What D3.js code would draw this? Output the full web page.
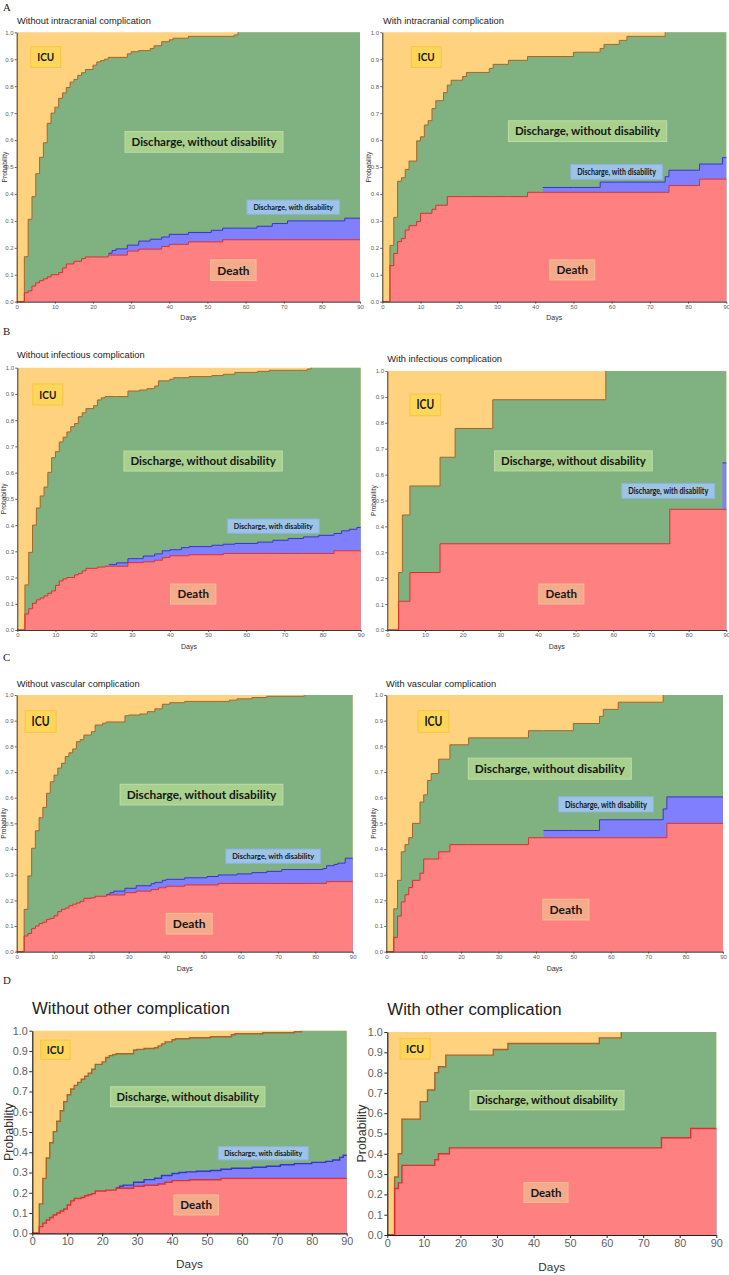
<!DOCTYPE html>
<html><head><meta charset="utf-8">
<script src="https://cdn.jsdelivr.net/npm/d3@7"></script>
<style>body{margin:0;background:#fff} svg{display:block}</style>
</head><body>
<svg id="chart" width="729" height="1275"></svg>
<script>
// ---------------- DATA (cumulative step boundaries, [day, probability]) ----------------
const xTicks = [0,10,20,30,40,50,60,70,80,90];
const yTicks = [0,0.1,0.2,0.3,0.4,0.5,0.6,0.7,0.8,0.9,1.0];
const stateNames = ["ICU","Discharge, without disability","Discharge, with disability","Death"];

// A: intracranial
const deathA1 = [[2,.033],[3,.04],[4,.058],[5,.07],[6,.078],[7,.085],[8,.092],[9,.1],[11,.108],[12,.125],[13,.14],[15,.15],[17,.16],[18,.166],[24,.173],[29,.188],[32,.195],[38,.205],[40,.213],[45,.222],[54,.23]];
const disabA1 = [[24,.18],[25,.19],[26,.196],[29,.21],[32,.225],[35,.232],[38,.24],[40,.25],[45,.257],[51,.265],[54,.273],[63,.28],[67,.29],[71,.3],[86,.31]];
const dischA1 = [[2,.167],[3,.306],[4,.39],[5,.475],[6,.536],[7,.59],[8,.662],[9,.70],[10,.722],[11,.755],[12,.775],[13,.795],[14,.815],[15,.825],[16,.84],[17,.85],[18,.862],[20,.878],[21,.89],[22,.895],[23,.9],[24,.907],[29,.92],[30,.928],[32,.932],[35,.94],[36,.95],[38,.965],[40,.972],[41,.978],[45,.985],[57,.99],[58,1]];

const deathA2 = [[2,.134],[3,.179],[4,.223],[5,.235],[6,.266],[7,.282],[9,.298],[10,.328],[13,.343],[14,.358],[17,.39],[38,.406],[75,.431],[83,.455]];
const disabA2 = [[42,.424],[57,.444],[74,.464],[75,.488],[83,.511],[89,.535]];
const dischA2 = [[2,.209],[3,.313],[4,.447],[5,.46],[6,.491],[7,.522],[9,.597],[10,.612],[11,.656],[12,.672],[13,.717],[14,.746],[16,.776],[17,.804],[18,.822],[21,.836],[22,.851],[28,.866],[29,.881],[33,.896],[38,.91],[50,.926],[57,.94],[58,.955],[62,.97],[64,.985],[74,1]];

// B: infectious
const deathB1 = [[2,.061],[3,.081],[4,.102],[5,.115],[6,.122],[7,.13],[8,.14],[9,.149],[10,.17],[11,.187],[12,.195],[13,.2],[15,.21],[16,.215],[17,.225],[18,.235],[21,.24],[23,.243],[29,.257],[33,.26],[36,.266],[38,.276],[40,.283],[45,.287],[54,.292],[83,.302]];
const disabB1 = [[24,.25],[26,.256],[29,.272],[33,.282],[36,.29],[38,.302],[40,.306],[43,.314],[45,.318],[51,.323],[54,.327],[57,.33],[63,.335],[67,.342],[71,.349],[75,.355],[79,.361],[83,.368],[85,.378],[87,.384],[89,.391]];
const dischB1 = [[2,.172],[3,.296],[4,.40],[5,.465],[6,.511],[7,.545],[8,.601],[9,.657],[10,.68],[11,.717],[12,.735],[13,.755],[14,.775],[15,.787],[16,.813],[17,.828],[18,.844],[20,.855],[21,.877],[22,.885],[23,.89],[29,.911],[32,.915],[34,.92],[36,.93],[37,.95],[40,.956],[41,.962],[45,.966],[51,.97],[54,.975],[57,.982],[63,.986],[66,.99],[76,.995],[77,1]];

const deathB2 = [[3,.111],[6,.222],[14,.333],[75,.466]];
const disabB2 = [[89,.645]];
const dischB2 = [[3,.222],[4,.444],[6,.556],[14,.667],[18,.778],[28,.889],[58,1]];

// C: vascular
const deathC1 = [[2,.061],[3,.071],[4,.09],[5,.10],[6,.11],[7,.115],[8,.126],[9,.13],[10,.14],[11,.156],[12,.165],[13,.17],[14,.179],[15,.185],[16,.19],[17,.196],[18,.208],[20,.21],[21,.216],[24,.221],[29,.23],[32,.236],[36,.242],[38,.249],[40,.255],[45,.26],[54,.266],[83,.273]];
const disabC1 = [[24,.223],[25,.23],[26,.236],[29,.247],[32,.257],[36,.265],[37,.27],[39,.278],[40,.282],[45,.288],[51,.293],[54,.299],[59,.303],[63,.308],[67,.313],[71,.32],[82,.324],[83,.335],[85,.34],[86,.345],[88,.364]];
const dischC1 = [[2,.165],[3,.295],[4,.403],[5,.471],[6,.522],[7,.562],[8,.617],[9,.662],[10,.688],[11,.715],[12,.734],[13,.76],[14,.775],[15,.79],[16,.818],[17,.826],[18,.844],[20,.857],[21,.883],[23,.89],[24,.895],[29,.919],[30,.922],[33,.926],[35,.935],[37,.946],[39,.964],[41,.97],[45,.975],[57,.98],[59,.985],[63,.99],[67,.995],[77,1]];

const deathC2 = [[2,.056],[3,.139],[4,.194],[5,.222],[6,.25],[7,.278],[9,.306],[10,.361],[14,.389],[17,.417],[38,.444],[75,.5]];
const disabC2 = [[42,.472],[57,.514],[74,.556],[75,.603]];
const dischC2 = [[2,.167],[3,.278],[4,.389],[5,.417],[6,.444],[7,.5],[9,.583],[10,.611],[11,.667],[12,.694],[14,.75],[17,.806],[22,.833],[38,.861],[50,.889],[57,.917],[58,.944],[62,.972],[74,1]];

// D: other
const deathD1 = [[2,.033],[3,.05],[4,.066],[5,.078],[6,.09],[7,.1],[8,.11],[9,.12],[10,.14],[11,.16],[12,.172],[14,.177],[15,.185],[16,.19],[17,.196],[18,.209],[21,.213],[24,.222],[29,.232],[32,.237],[36,.243],[38,.252],[40,.26],[45,.264],[54,.271]];
const disabD1 = [[24,.225],[25,.232],[26,.238],[29,.252],[32,.265],[35,.272],[37,.285],[40,.295],[42,.3],[44,.303],[47,.306],[51,.31],[54,.316],[57,.321],[63,.326],[67,.331],[71,.338],[75,.344],[80,.35],[84,.355],[86,.362],[88,.375],[89,.385]];
const dischD1 = [[2,.145],[3,.271],[4,.372],[5,.447],[6,.502],[7,.553],[8,.605],[9,.65],[10,.684],[11,.712],[12,.73],[13,.745],[14,.76],[15,.775],[16,.79],[17,.81],[18,.834],[20,.846],[21,.868],[22,.877],[23,.882],[24,.886],[29,.905],[30,.908],[32,.912],[35,.916],[36,.925],[37,.935],[38,.945],[40,.955],[41,.96],[45,.965],[51,.97],[57,.98],[58,.985],[66,.99],[75,.995],[77,1]];

const deathD2 = [[2,.229],[3,.257],[4,.343],[13,.371],[14,.4],[17,.429],[75,.479],[83,.525]];
const disabD2 = [];
const dischD2 = [[2,.286],[3,.4],[4,.571],[9,.657],[11,.714],[13,.8],[14,.829],[16,.886],[29,.914],[33,.943],[58,.971],[64,1]];

const titles = ["Without intracranial complication","With intracranial complication",
  "Without infectious complication","With infectious complication",
  "Without vascular complication","With vascular complication",
  "Without other complication","With other complication"];
const groupLetters = ["A","B","C","D"];

// ---------------- LAYOUT ----------------
const small = {tick:6, axisLab:7, probLab:6.6, title:9.3, tickSize:2, pad:1.2, axisColor:"#3a3a3a", axisW:1, lineW:1};
const big   = {tick:10.8, axisLab:11.8, probLab:12.4, title:16.8, tickSize:3, pad:1.5, axisColor:"#222", axisW:1.2, lineW:1.4};
const layout = [
 {l:16.7,r:360,t:32.3,b:301.7, tx:17,ty:24, probX:4.5, daysY:319.8, st:small,
  lab:[[7.6,.908,30,20.7],[49.1,.593,158,20.7],[72.5,.351,92.7,14.3],[56.8,.117,45.3,20.7]]},
 {l:382.3,r:726.3,t:32.3,b:301.7, tx:383,ty:24, probX:368.5, daysY:319.8, st:small,
  lab:[[11.5,.908,30,20.7],[53.7,.633,158.3,20.7],[61.3,.482,91.7,15],[49.7,.118,45,20]]},
 {l:17.3,r:360.7,t:367.7,b:630, tx:17,ty:358.3, probX:4, daysY:648.6, st:small,
  lab:[[8.0,.898,30,21],[48.7,.644,158.3,20],[67.1,.396,92,14.3],[46.1,.137,45.3,20]]},
 {l:387.3,r:726.3,t:371,b:630, tx:387.3,ty:362.3, probX:374, daysY:648.6, st:small,
  lab:[[10.1,.869,30.7,21.7],[49.4,.653,157.7,20],[74.6,.537,93,15],[46.2,.139,45,20]]},
 {l:16.7,r:352.7,t:695,b:951.7, tx:16.7,ty:686.6, probX:4, daysY:970.6, st:small,
  lab:[[6.4,.897,31,21.7],[49.5,.612,162.7,20.7],[68.7,.372,94.7,14.3],[46.2,.109,46,20.7]]},
 {l:386.3,r:723,t:695,b:951.7, tx:386,ty:686.6, probX:374, daysY:970.6, st:small,
  lab:[[12.6,.897,31,21.7],[43.7,.713,163,21],[58.7,.574,95,15.3],[48.0,.164,46,20.7]]},
 {l:32.3,r:346.7,t:1030.7,b:1233.3, tx:32,ty:1014, probX:8.5, daysY:1268, st:big,
  lab:[[6.6,.906,29.3,19.3],[44.5,.674,154.3,20],[66.1,.395,90,13.3],[46.9,.14,44.3,20]]},
 {l:387.3,r:716.3,t:1032,b:1235, tx:387.3,ty:1015, probX:362, daysY:1271, st:big,
  lab:[[7.6,.918,30,20.7],[43.7,.664,154,19.3],null,[43.4,.209,44,19.7]]}
];
const letterPos = [[3,10.5],[3,334.5],[3,661],[3,983.5]];

const colors = {icu:"#ffd280", disch:"#80b180", disab:"#8080ff", death:"#ff8080",
  topLine:"#a5652b", blueLine:"#3535d0", redLine:"#dd3030"};
const boxStyle = [
  {fill:"#ffd65c", stroke:"#f7c443"},
  {fill:"#a9d18e", stroke:"#bedcaa"},
  {fill:"#9dc3e6", stroke:"#8db2df"},
  {fill:"#f3ab8b", stroke:"#f7be92"}
];

const panels = [
  {death:deathA1, disab:disabA1, disch:dischA1},
  {death:deathA2, disab:disabA2, disch:dischA2},
  {death:deathB1, disab:disabB1, disch:dischB1},
  {death:deathB2, disab:disabB2, disch:dischB2},
  {death:deathC1, disab:disabC1, disch:dischC1},
  {death:deathC2, disab:disabC2, disch:dischC2},
  {death:deathD1, disab:disabD1, disch:dischD1},
  {death:deathD2, disab:disabD2, disch:dischD2}
];

// ---------------- DRAW ----------------
const svg = d3.select("#chart");
const stepAt = (steps, t) => { let v = 0; for (const [d, val] of steps) if (d <= t) v = val; return v; };

letterPos.forEach((p, i) => {
  svg.append("text").attr("x", p[0]).attr("y", p[1]).text(groupLetters[i])
    .attr("font-family", "'Liberation Serif','DejaVu Serif',serif").attr("font-size", 10.8).attr("fill", "#222");
});

panels.forEach((P, i) => {
  const L = layout[i], S = L.st;
  const x = d3.scaleLinear().domain([0, 90]).range([L.l, L.r]);
  const y = d3.scaleLinear().domain([0, 1]).range([L.b, L.t]);
  const g = svg.append("g");

  const days = Array.from(new Set([0, 90, ...P.death.map(d => d[0]), ...P.disab.map(d => d[0]), ...P.disch.map(d => d[0])])).sort((a, b) => a - b);
  const rows = days.map(t => {
    const de = stepAt(P.death, t);
    const bl = (P.disab.length && t >= P.disab[0][0]) ? Math.max(de, stepAt(P.disab, t)) : de;
    const tp = Math.max(bl, stepAt(P.disch, t));
    return {t, de, bl, tp};
  });

  // ICU background
  const icuArea = d3.area().x(d => x(d.t)).y0(y(0)).y1(y(1)).curve(d3.curveStepAfter);
  g.append("path").datum(rows).attr("d", icuArea).attr("fill", colors.icu);

  const mkArea = key => d3.area().x(d => x(d.t)).y0(y(0)).y1(d => y(d[key])).curve(d3.curveStepAfter);
  g.append("path").datum(rows).attr("d", mkArea("tp")).attr("fill", colors.disch);
  g.append("path").datum(rows).attr("d", mkArea("bl")).attr("fill", colors.disab);
  g.append("path").datum(rows).attr("d", mkArea("de")).attr("fill", colors.death);

  const mkLine = key => d3.line().x(d => x(d.t)).y(d => y(d[key])).curve(d3.curveStepAfter);
  const firstOne = rows.findIndex(r => r.tp >= 1);
  const topRows = firstOne >= 0 ? rows.slice(0, firstOne + 1) : rows;
  g.append("path").datum(topRows).attr("d", mkLine("tp")).attr("fill", "none")
    .attr("stroke", colors.topLine).attr("stroke-width", S.lineW);
  if (P.disab.length) {
    const bRows = rows.filter(r => r.t >= P.disab[0][0] - 1e-9);
    g.append("path").datum(bRows).attr("d", mkLine("bl")).attr("fill", "none")
      .attr("stroke", colors.blueLine).attr("stroke-width", S.lineW);
  }
  g.append("path").datum(rows).attr("d", mkLine("de")).attr("fill", "none")
    .attr("stroke", colors.redLine).attr("stroke-width", S.lineW);

  // state label boxes (Calibri-like: Lato bold, horizontally condensed to the box)
  L.lab.forEach((lb, k) => {
    if (!lb) return;
    const [dx, py, w, h] = lb;
    const cx = x(dx), cy = y(py);
    g.append("rect").attr("x", cx - w / 2).attr("y", cy - h / 2).attr("width", w).attr("height", h)
      .attr("fill", boxStyle[k].fill).attr("stroke", boxStyle[k].stroke).attr("stroke-width", 1);
    const fs = h * 0.58;
    const tx = g.append("text").attr("x", cx).attr("y", cy).attr("text-anchor", "middle")
      .attr("dy", "0.36em").attr("font-family", "Lato, 'Open Sans', sans-serif").attr("font-weight", 700)
      .attr("fill", "#161616").attr("font-size", fs.toFixed(2)).text(stateNames[k]);
    const len = tx.node().getComputedTextLength();
    const target = w - (S === big ? 12 : 13);
    if (len > target) tx.attr("textLength", target.toFixed(1)).attr("lengthAdjust", "spacingAndGlyphs");
  });

  // axes
  const ax = d3.axisBottom(x).tickValues(xTicks).tickSize(S.tickSize).tickSizeOuter(0).tickPadding(S.pad);
  const ay = d3.axisLeft(y).tickValues(yTicks).tickFormat(d3.format(".1f")).tickSize(S.tickSize).tickSizeOuter(0).tickPadding(S.pad);
  const gx = g.append("g").attr("transform", `translate(0,${L.b})`).call(ax);
  const gy = g.append("g").attr("transform", `translate(${L.l},0)`).call(ay);
  [gx, gy].forEach(a => {
    a.selectAll("path.domain").attr("stroke", S.axisColor).attr("stroke-width", S.axisW);
    a.selectAll(".tick line").attr("stroke", S.axisColor).attr("stroke-width", S.axisW * 0.8);
    a.selectAll(".tick text").attr("font-family", "'Liberation Sans', Arial, sans-serif")
      .attr("font-size", S.tick).attr("fill", "#606060");
  });

  // titles & axis labels
  g.append("text").attr("x", L.tx).attr("y", L.ty).text(titles[i])
    .attr("font-family", "'Liberation Sans', Arial, sans-serif").attr("font-size", S.title).attr("fill", "#222");
  g.append("text").attr("x", (L.l + L.r) / 2).attr("y", L.daysY).attr("text-anchor", "middle").text("Days")
    .attr("font-family", "'Liberation Sans', Arial, sans-serif").attr("font-size", S.axisLab).attr("fill", "#333");
  g.append("text").attr("transform", `translate(${L.probX},${(L.t + L.b) / 2}) rotate(-90)`)
    .attr("text-anchor", "middle").attr("dy", "0.35em").text("Probability")
    .attr("font-family", "'Liberation Sans', Arial, sans-serif").attr("font-size", S.probLab).attr("fill", "#333");
});
</script>
</body></html>
